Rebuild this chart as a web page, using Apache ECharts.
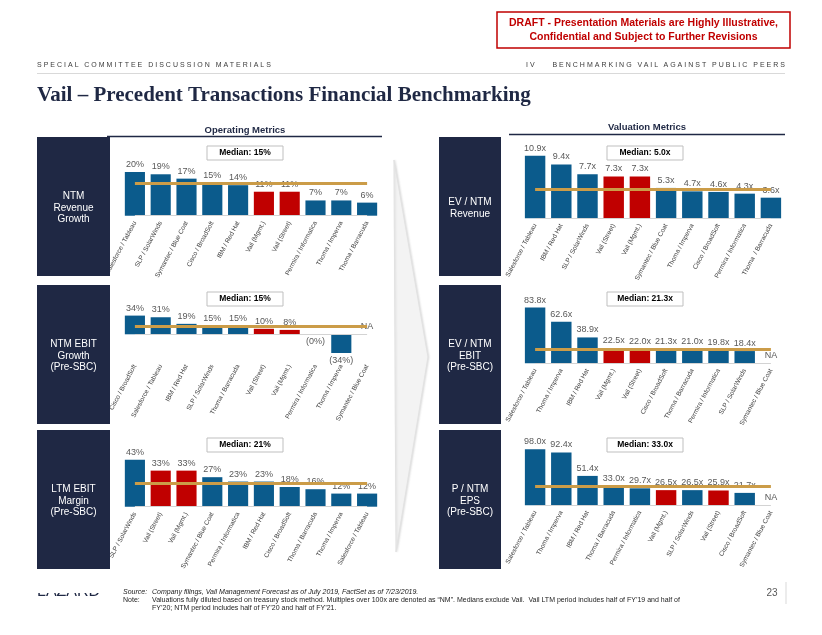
<!DOCTYPE html>
<html><head><meta charset="utf-8">
<script src="https://cdn.jsdelivr.net/npm/echarts@6/dist/echarts.min.js"></script>
<style>
html,body{margin:0;padding:0;background:#fff;}
#wrap{position:relative;width:822px;height:635px;overflow:hidden;}
#chart{position:absolute;left:0;top:0;width:822px;height:635px;}
.hdr{position:absolute;top:60px;font-family:'Liberation Sans',Arial,sans-serif;font-size:7px;letter-spacing:2px;color:#3a3a3a;white-space:pre;line-height:9px;}
</style></head><body>
<div id="wrap"><div id="chart"></div>
<div class="hdr" style="left:37px">SPECIAL COMMITTEE DISCUSSION MATERIALS</div>
<div class="hdr" style="right:35px">IV    BENCHMARKING VAIL AGAINST PUBLIC PEERS</div>
</div>
<script>
// ---------- DATA ----------
const revGrowthCats = ['Salesforce / Tableau','SLP / SolarWinds','Symantec / Blue Coat','Cisco / BroadSoft','IBM / Red Hat','Vail (Mgmt.)','Vail (Street)','Permira / Informatica','Thoma / Imperva','Thoma / Barracuda'];
const revGrowthVals = [20, 19, 17, 15, 14, 11, 11, 7, 7, 6];
const revGrowthMedian = 15;

const ebitGrowthCats = ['Cisco / BroadSoft','Salesforce / Tableau','IBM / Red Hat','SLP / SolarWinds','Thoma / Barracuda','Vail (Street)','Vail (Mgmt.)','Permira / Informatica','Thoma / Imperva','Symantec / Blue Coat'];
const ebitGrowthVals = [34, 31, 19, 15, 15, 10, 8, -0.2, -34, null];
const ebitGrowthMedian = 15;

const ebitMarginCats = ['SLP / SolarWinds','Vail (Street)','Vail (Mgmt.)','Symantec / Blue Coat','Permira / Informatica','IBM / Red Hat','Cisco / BroadSoft','Thoma / Barracuda','Thoma / Imperva','Salesforce / Tableau'];
const ebitMarginVals = [43, 33, 33, 27, 23, 23, 18, 16, 12, 12];
const ebitMarginMedian = 21;

const evRevCats = ['Salesforce / Tableau','IBM / Red Hat','SLP / SolarWinds','Vail (Street)','Vail (Mgmt.)','Symantec / Blue Coat','Thoma / Imperva','Cisco / BroadSoft','Permira / Informatica','Thoma  / Barracuda'];
const evRevVals = [10.9, 9.4, 7.7, 7.3, 7.3, 5.3, 4.7, 4.6, 4.3, 3.6];
const evRevMedian = 5.0;

const evEbitCats = ['Salesforce / Tableau','Thoma / Imperva','IBM / Red Hat','Vail (Mgmt.)','Vail (Street)','Cisco / BroadSoft','Thoma / Barracuda','Permira / Informatica','SLP / SolarWinds','Symantec / Blue Coat'];
const evEbitVals = [83.8, 62.6, 38.9, 22.5, 22.0, 21.3, 21.0, 19.8, 18.4, null];
const evEbitMedian = 21.3;

const peCats = ['Salesforce / Tableau','Thoma / Imperva','IBM / Red Hat','Thoma / Barracuda','Permira / Informatica','Vail (Mgmt.)','SLP / SolarWinds','Vail (Street)','Cisco / BroadSoft','Symantec / Blue Coat'];
const peVals = [98.0, 92.4, 51.4, 33.0, 29.7, 26.5, 26.5, 25.9, 21.7, null];
const peMedian = 33.0;

// ---------- STYLE / LAYOUT ----------
const FONT = "'Liberation Sans', Arial, sans-serif";
const NAVY = '#1F2844', BLUE = '#0B5B8C', RED = '#C00000', GOLD = '#CB9C48';

const panels = [
  {cats: revGrowthCats, vals: revGrowthVals, median: revGrowthMedian, unit: 'pct', left: 122, width: 258, base: 215.7, ppu: 2.18, min: 0, max: 30, label: 'NTM\nRevenue\nGrowth', boxX: 37, boxW: 73, boxY: 137, medY: 146, medX: 245},
  {cats: ebitGrowthCats, vals: ebitGrowthVals, median: ebitGrowthMedian, unit: 'pct', left: 122, width: 258, base: 334.3, ppu: 0.55, min: -45, max: 60, label: 'NTM EBIT\nGrowth\n(Pre-SBC)', boxX: 37, boxW: 73, boxY: 285, medY: 292, medX: 245},
  {cats: ebitMarginCats, vals: ebitMarginVals, median: ebitMarginMedian, unit: 'pct', left: 122, width: 258, base: 506.7, ppu: 1.093, min: 0, max: 55, label: 'LTM EBIT\nMargin\n(Pre-SBC)', boxX: 37, boxW: 73, boxY: 430, medY: 438, medX: 245},
  {cats: evRevCats, vals: evRevVals, median: evRevMedian, unit: 'x', left: 522, width: 262, base: 218.3, ppu: 5.73, min: 0, max: 13, label: 'EV / NTM\nRevenue', boxX: 439, boxW: 62, boxY: 137, medY: 146, medX: 645},
  {cats: evEbitCats, vals: evEbitVals, median: evEbitMedian, unit: 'x', left: 522, width: 262, base: 363.3, ppu: 0.665, min: 0, max: 100, label: 'EV / NTM\nEBIT\n(Pre-SBC)', boxX: 439, boxW: 62, boxY: 285, medY: 292, medX: 645},
  {cats: peCats, vals: peVals, median: peMedian, unit: 'x', left: 522, width: 262, base: 505.3, ppu: 0.572, min: 0, max: 115, label: 'P / NTM\nEPS\n(Pre-SBC)', boxX: 439, boxW: 62, boxY: 430, medY: 438, medX: 645}
];

const grids = [], xAxes = [], yAxes = [], series = [], graphics = [];

// chevron arrow (subtle)
graphics.push({type: 'polygon', z: 0, shape: {points: [[394, 160], [428, 357], [396, 552]]},
  style: {fill: '#F3F3F3', stroke: '#E2E2E2', lineWidth: 1, shadowBlur: 2, shadowColor: 'rgba(0,0,0,0.10)', shadowOffsetX: 1}});

panels.forEach((p, i) => {
  const last = p.cats.length - 1;
  grids.push({left: p.left, width: p.width, top: p.base - p.max * p.ppu, height: (p.max - p.min) * p.ppu});
  xAxes.push({gridIndex: i, type: 'category', data: p.cats,
    axisLine: {show: false, onZero: false}, axisTick: {show: false},
    axisLabel: {interval: 0, rotate: 62, fontSize: 6.5, color: '#404040', margin: 6, fontFamily: FONT}});
  yAxes.push({gridIndex: i, type: 'value', min: p.min, max: p.max, show: false, splitLine: {show: false}});
  const fmt = v => p.unit === 'pct'
    ? (v < 0 ? '(' + Math.abs(Math.round(v)) + '%)' : Math.round(v) + '%')
    : v.toFixed(1) + 'x';
  series.push({
    type: 'bar', xAxisIndex: i, yAxisIndex: i, barWidth: '78%', animation: false,
    data: p.vals.map((v, j) => v === null
      ? {value: 0, itemStyle: {color: 'rgba(0,0,0,0)'}, label: {formatter: 'NA', position: 'top'}}
      : {value: v, itemStyle: {color: p.cats[j].indexOf('Vail') === 0 ? RED : BLUE}, label: {position: v < 0 ? 'bottom' : 'top'}}),
    label: {show: true, position: 'top', distance: 3, fontSize: 9, color: '#595959', fontFamily: FONT, formatter: q => fmt(q.value)},
    markLine: {silent: true, symbol: ['none', 'none'], animation: false, label: {show: false}, z: 10,
      data: [
        [{coord: [p.cats[0], 0], lineStyle: {color: '#D3D3D3', width: 1, type: 'solid'}}, {coord: [p.cats[last], 0]}],
        [{coord: [p.cats[0], p.median], lineStyle: {color: GOLD, width: 3, type: 'solid'}}, {coord: [p.cats[last], p.median]}]
      ]}
  });
  // label box
  graphics.push({type: 'rect', z: 1, shape: {x: p.boxX, y: p.boxY, width: p.boxW, height: 139}, style: {fill: NAVY}});
  graphics.push({type: 'text', z: 2, x: p.boxX + p.boxW / 2, y: p.boxY + 71,
    style: {text: p.label, fill: '#fff', fontSize: 10, fontFamily: FONT, align: 'center', verticalAlign: 'middle', lineHeight: 11.5}});
  // median box
  graphics.push({type: 'rect', z: 3, shape: {x: p.medX - 38, y: p.medY, width: 76, height: 14}, style: {fill: '#fff', stroke: '#BFBFBF', lineWidth: 1}});
  graphics.push({type: 'text', z: 4, x: p.medX, y: p.medY + 7,
    style: {text: 'Median: ' + (p.unit === 'pct' ? Math.round(p.median) + '%' : p.median.toFixed(1) + 'x'),
      fill: '#000', fontSize: 8.5, fontWeight: 'bold', fontFamily: FONT, align: 'center', verticalAlign: 'middle'}});
});

// headers & footer
graphics.push(
  {type: 'rect', shape: {x: 497, y: 12, width: 293, height: 36}, style: {fill: '#fff', stroke: RED, lineWidth: 1.5}},
  {type: 'text', x: 643.5, y: 30, style: {text: 'DRAFT - Presentation Materials are Highly Illustrative,\nConfidential and Subject to Further Revisions',
    fill: RED, fontSize: 10.5, fontWeight: 'bold', fontFamily: "'Liberation Sans Narrow','Arial Narrow','Liberation Sans',sans-serif", align: 'center', verticalAlign: 'middle', lineHeight: 14}},
  {type: 'line', shape: {x1: 37, y1: 73.5, x2: 785, y2: 73.5}, style: {stroke: '#D9D9D9', lineWidth: 1}},
  {type: 'text', x: 37, y: 96, style: {text: 'Vail \u2013 Precedent Transactions Financial Benchmarking', fill: NAVY, fontSize: 21, fontWeight: 'bold', fontFamily: "'Liberation Serif','Times New Roman',serif", verticalAlign: 'middle'}},
  {type: 'text', x: 245, y: 130.5, style: {text: 'Operating Metrics', fill: NAVY, fontSize: 9.5, fontWeight: 'bold', fontFamily: FONT, align: 'center', verticalAlign: 'middle'}},
  {type: 'line', shape: {x1: 107, y1: 136.5, x2: 382, y2: 136.5}, style: {stroke: NAVY, lineWidth: 1.5}},
  {type: 'text', x: 647, y: 127, style: {text: 'Valuation Metrics', fill: NAVY, fontSize: 9.5, fontWeight: 'bold', fontFamily: FONT, align: 'center', verticalAlign: 'middle'}},
  {type: 'line', shape: {x1: 509, y1: 134.5, x2: 785, y2: 134.5}, style: {stroke: NAVY, lineWidth: 1.5}},
  {type: 'text', x: 37, y: 600, style: {text: 'LAZARD', fill: NAVY, fontSize: 16, fontFamily: FONT, verticalAlign: 'bottom'}},
  {type: 'rect', z: 5, shape: {x: 30, y: 580, width: 85, height: 13}, style: {fill: '#fff'}},
  {type: 'text', x: 123, y: 592, style: {text: 'Source:', fill: '#222', fontSize: 7, fontStyle: 'italic', fontFamily: FONT, verticalAlign: 'middle'}},
  {type: 'text', x: 152, y: 592, style: {text: 'Company filings, Vail Management Forecast as of July 2019, FactSet as of 7/23/2019.', fill: '#222', fontSize: 7, fontStyle: 'italic', fontFamily: FONT, verticalAlign: 'middle'}},
  {type: 'text', x: 123, y: 600, style: {text: 'Note:', fill: '#222', fontSize: 7, fontFamily: FONT, verticalAlign: 'middle'}},
  {type: 'text', x: 152, y: 596, style: {text: 'Valuations fully diluted based on treasury stock method. Multiples over 100x are denoted as \u201CNM\u201D. Medians exclude Vail.  Vail LTM period includes half of FY\u201919 and half of\nFY\u201920; NTM period includes half of FY\u201920 and half of FY\u201921.', fill: '#222', fontSize: 7, fontFamily: FONT, verticalAlign: 'top', lineHeight: 8}},
  {type: 'text', x: 772, y: 593, style: {text: '23', fill: '#595959', fontSize: 10, fontFamily: FONT, align: 'center', verticalAlign: 'middle'}},
  {type: 'line', shape: {x1: 786, y1: 582, x2: 786, y2: 604}, style: {stroke: '#D9D9D9', lineWidth: 1}}
);

const chart = echarts.init(document.getElementById('chart'), null, {renderer: 'canvas'});
chart.setOption({
  animation: false,
  backgroundColor: '#fff',
  grid: grids, xAxis: xAxes, yAxis: yAxes, series: series,
  graphic: {elements: graphics}
});
</script>
</body></html>
